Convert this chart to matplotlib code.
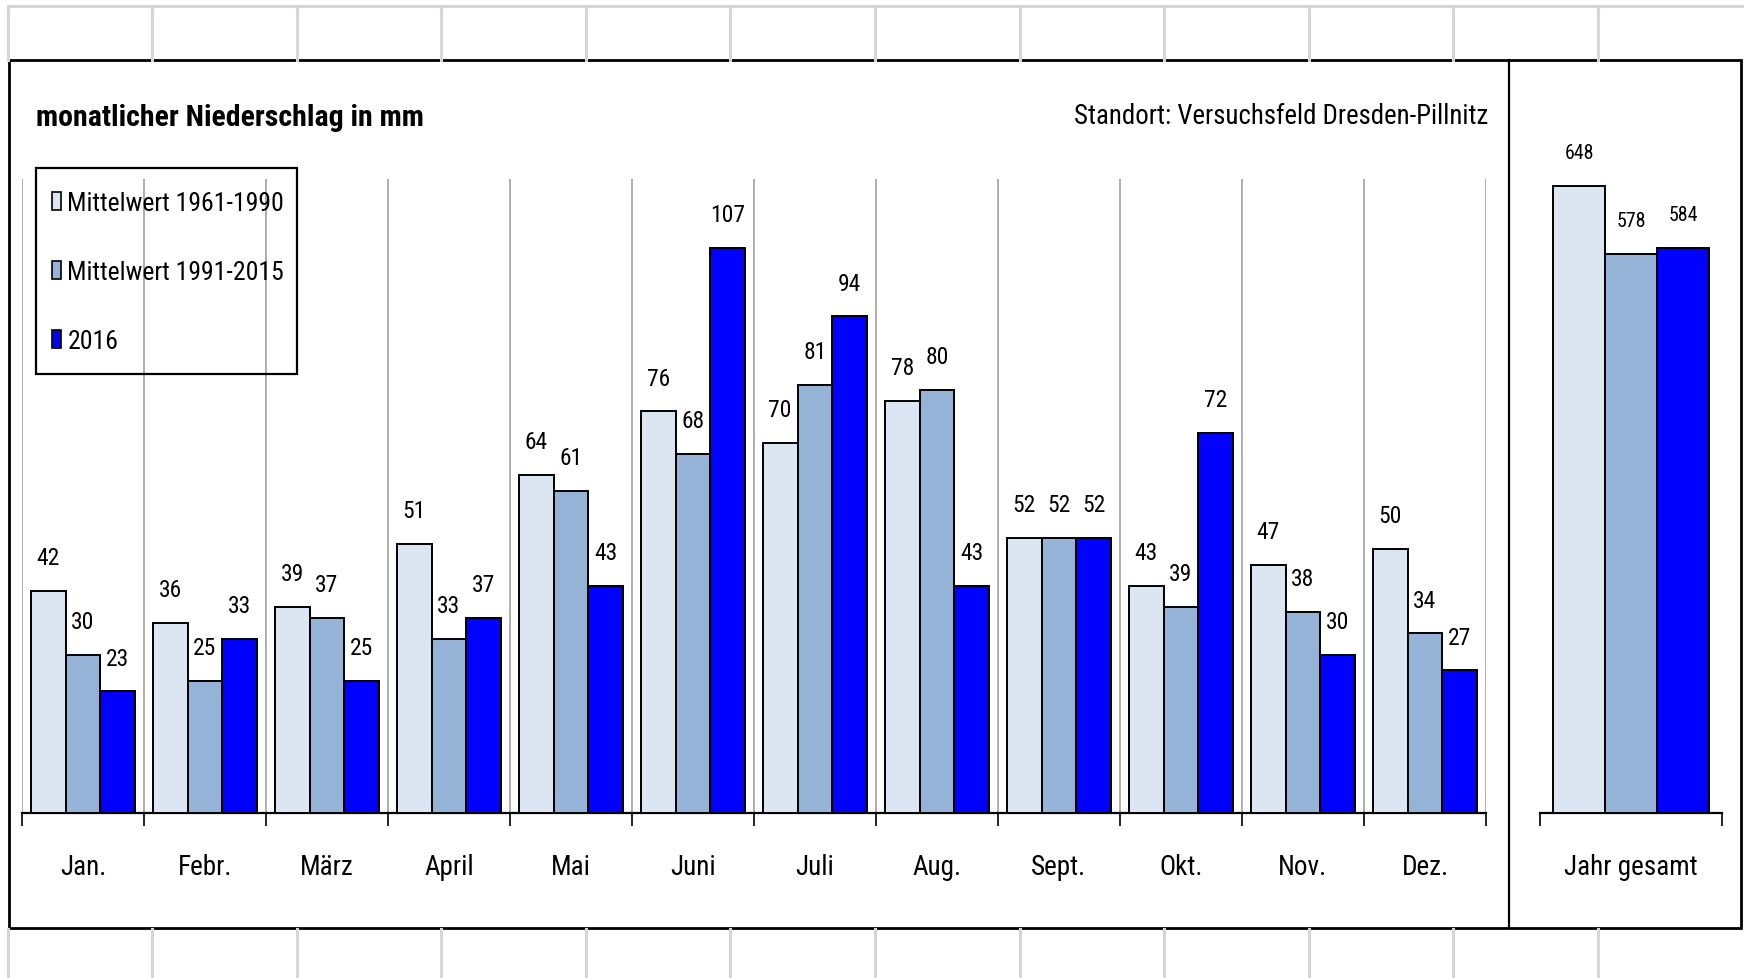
import numpy as np
import matplotlib
matplotlib.use('Agg')
import matplotlib.pyplot as plt
from matplotlib import font_manager
from matplotlib.font_manager import FontProperties
from matplotlib.textpath import TextPath
from matplotlib.patches import Patch, Rectangle
from matplotlib.lines import Line2D

# Daten
monate = ['Jan.', 'Febr.', 'März', 'April', 'Mai', 'Juni', 'Juli',
          'Aug.', 'Sept.', 'Okt.', 'Nov.', 'Dez.']
mittel_1961_1990 = [42, 36, 39, 51, 64, 76, 70, 78, 52, 43, 47, 50]
mittel_1991_2015 = [30, 25, 37, 33, 61, 68, 81, 80, 52, 39, 38, 34]
jahr_2016 = [23, 33, 25, 37, 43, 107, 94, 43, 52, 72, 30, 27]
serien = ['Mittelwert 1961-1990', 'Mittelwert 1991-2015', '2016']
jahr_label = ['Jahr gesamt']
jahr_summen = [648, 578, 584]

farben = ['#dce6f2', '#95b3d7', '#0000ff']

# Schrift: moeglichst schmale Schrift suchen
namen = {f.name for f in font_manager.fontManager.ttflist}
schrift = 'Liberation Sans'
dehnung = 'normal'
for n in ['Liberation Sans Narrow', 'Roboto Condensed', 'Open Sans Condensed',
          'Noto Sans Condensed', 'DejaVu Sans Condensed']:
    if n in namen:
        schrift = n
        break
else:
    for f in font_manager.fontManager.ttflist:
        if f.name in ('Roboto', 'Noto Sans', 'Open Sans', 'DejaVu Sans') and \
                str(f.stretch) in ('condensed', 'semi-condensed', 'extra-condensed'):
            schrift = f.name
            dehnung = f.stretch
            break
plt.rcParams['font.family'] = [schrift, 'DejaVu Sans']
plt.rcParams['font.stretch'] = dehnung


def groesse(text, breite_px, fett=False):
    # Schriftgroesse so, dass der Text etwa die Breite wie im Original hat
    fp = FontProperties(family=schrift, stretch=dehnung, weight='bold' if fett else 'normal')
    b = TextPath((0, 0), text, size=10, prop=fp).get_extents().width * 100 / 72
    return 10 * breite_px / b


W, H = 1744, 979


def fx(x):
    return x / W


def fy(y):
    return 1 - y / H


fig = plt.figure(figsize=(W / 100, H / 100), dpi=100)
fig.patch.set_facecolor('white')

# Excel-Gitter oben und unten
grau = '#d6d6d6'
fig.add_artist(Line2D([fx(8), 1], [fy(7), fy(7)], color=grau, lw=2.2))
for y0, y1 in [(7, 61), (930, 979)]:
    fig.add_artist(Line2D([fx(8), fx(8)], [fy(y0), fy(y1)], color=grau, lw=2.2))
    for k in range(11):
        xg = 152 + k * 144.6
        fig.add_artist(Line2D([fx(xg), fx(xg)], [fy(y0), fy(y1)], color=grau, lw=2.2))

# Diagrammrahmen
fig.add_artist(Rectangle((fx(9), fy(929)), fx(1741) - fx(9), fy(61) - fy(929),
                         fill=False, edgecolor='black', lw=2.0))
fig.add_artist(Line2D([fx(1509), fx(1509)], [fy(929), fy(61)], color='black', lw=1.6))

fs_wert = groesse('107', 32)
fs_jahr = groesse('648', 27)
fs_monat = groesse('Jahr gesamt', 132)
fs_leg = groesse('Mittelwert 1961-1990', 213)
fs_titel = groesse('monatlicher Niederschlag in mm', 385, fett=True)
fs_ort = groesse('Standort: Versuchsfeld Dresden-Pillnitz', 413)

breite = 0.2857
werte = [mittel_1961_1990, mittel_1991_2015, jahr_2016]
basis = 814
oben = 180

# Monatsdiagramm
ax = fig.add_axes([fx(22), fy(basis), (1486 - 22) / W, (basis - oben) / H])
x = np.arange(len(monate))
for i in range(3):
    pos = x + (i - 1) * breite
    ax.bar(pos, werte[i], breite, color=farben[i], edgecolor='black', linewidth=1.4, zorder=3)
    for px, v in zip(pos, werte[i]):
        ax.annotate(str(v), (px, v), xytext=(0, 24), textcoords='offset points',
                    ha='center', va='center', fontsize=fs_wert)
ax.set_xlim(-0.5, 11.5)
ax.set_ylim(0, 120)
ax.set_xticks(np.arange(-0.5, 12, 1))
ax.set_xticklabels([])
ax.set_xticks(x, minor=True)
ax.set_xticklabels(monate, minor=True, fontsize=fs_monat)
ax.tick_params(axis='x', which='major', length=9.5, width=1.2, color='black', direction='out')
ax.tick_params(axis='x', which='minor', length=0, pad=29)
ax.grid(axis='x', which='major', color='#a0a0a0', lw=1.2, zorder=0)
ax.set_yticks([])
for s in ['top', 'right', 'left']:
    ax.spines[s].set_visible(False)
ax.spines['bottom'].set_linewidth(1.6)
ax.patch.set_alpha(0)

# Jahresdiagramm
ax2 = fig.add_axes([fx(1540), fy(basis), (1722 - 1540) / W, (basis - oben) / H])
for i in range(3):
    pos = (i - 1) * breite
    ax2.bar([pos], [jahr_summen[i]], breite, color=farben[i], edgecolor='black', linewidth=1.4, zorder=3)
    ax2.annotate(str(jahr_summen[i]), (pos, jahr_summen[i]), xytext=(0, 24),
                 textcoords='offset points', ha='center', va='center', fontsize=fs_jahr)
ax2.set_xlim(-0.5, 0.5)
ax2.set_ylim(0, 655)
ax2.set_xticks([-0.5, 0.5])
ax2.set_xticklabels([])
ax2.set_xticks([0], minor=True)
ax2.set_xticklabels(jahr_label, minor=True, fontsize=fs_monat)
ax2.tick_params(axis='x', which='major', length=9.5, width=1.2, color='black', direction='out')
ax2.tick_params(axis='x', which='minor', length=0, pad=29)
ax2.set_yticks([])
for s in ['top', 'right', 'left']:
    ax2.spines[s].set_visible(False)
ax2.spines['bottom'].set_linewidth(1.6)
ax2.patch.set_alpha(0)

# Titel
fig.text(fx(36), fy(118), 'monatlicher Niederschlag in mm', fontsize=fs_titel, fontweight='bold',
         ha='left', va='center')
fig.text(fx(1488), fy(116), 'Standort: Versuchsfeld Dresden-Pillnitz', fontsize=fs_ort,
         ha='right', va='center')

# Legende mit eigenem Rahmen
fig.add_artist(Rectangle((fx(36), fy(375)), fx(297) - fx(36), fy(169) - fy(375),
                         fill=False, edgecolor='black', lw=1.6, zorder=5))
handles = [Patch(facecolor=farben[i], edgecolor='black', linewidth=1.2, label=serien[i])
           for i in range(3)]
leg = fig.legend(handles=handles, loc='upper left', bbox_to_anchor=(fx(29), fy(169)),
                 fontsize=fs_leg, frameon=False,
                 handlelength=0.36, handleheight=0.7, handletextpad=0.25,
                 labelspacing=1.75, borderpad=0.88, borderaxespad=0)

fig.savefig('out.png', dpi=100)
